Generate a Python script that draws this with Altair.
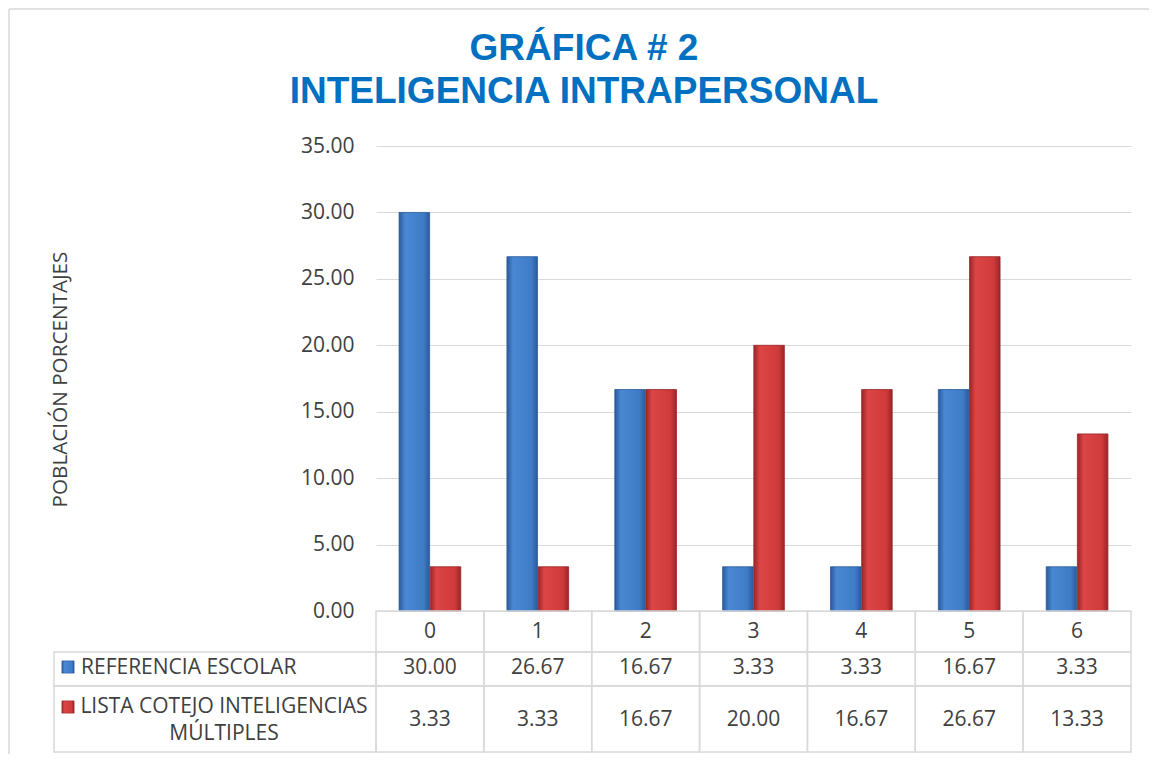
import altair as alt
import pandas as pd

categorias = ["0", "1", "2", "3", "4", "5", "6"]
referencia = [30.00, 26.67, 16.67, 3.33, 3.33, 16.67, 3.33]
lista = [3.33, 3.33, 16.67, 20.00, 16.67, 26.67, 13.33]
series = ["REFERENCIA ESCOLAR", "LISTA COTEJO INTELIGENCIAS MÚLTIPLES"]
titulo = ["GRÁFICA # 2", "INTELIGENCIA INTRAPERSONAL"]
eje_y = "POBLACIÓN PORCENTAJES"

FONT = "Open Sans"
GRAY = "#d9d9d9"
TXT = "#404040"
FS = 21

rows = []
for c, a, b in zip(categorias, referencia, lista):
    rows.append({"cat": c, "serie": series[0], "valor": a})
    rows.append({"cat": c, "serie": series[1], "valor": b})
df = pd.DataFrame(rows)
wide = pd.DataFrame({"cat": categorias, "ref": referencia, "lis": lista})
wide["ref_t"] = [f"{v:.2f}" for v in referencia]
wide["lis_t"] = [f"{v:.2f}" for v in lista]

xscale = alt.Scale(domain=categorias, paddingInner=0, paddingOuter=0)
xoff = alt.Scale(domain=series, paddingOuter=0.74, paddingInner=0.02)
yscale = alt.Scale(domain=[0, 35])

blue_grad = alt.Gradient(gradient="linear", x1=0, x2=1, y1=0, y2=0, stops=[
    alt.GradientStop(color="#2a5a9c", offset=0),
    alt.GradientStop(color="#4a88d4", offset=0.2),
    alt.GradientStop(color="#3f7cc6", offset=0.8),
    alt.GradientStop(color="#2a5a9c", offset=1)])
red_grad = alt.Gradient(gradient="linear", x1=0, x2=1, y1=0, y2=0, stops=[
    alt.GradientStop(color="#9a2627", offset=0),
    alt.GradientStop(color="#dc4546", offset=0.2),
    alt.GradientStop(color="#cf3a3b", offset=0.8),
    alt.GradientStop(color="#9a2627", offset=1)])

yaxis = alt.Axis(values=list(range(0, 40, 5)), format=".2f", labelFontSize=FS,
                 labelFont=FONT, labelColor=TXT, labelPadding=22, domain=False,
                 ticks=False, gridColor=GRAY, title=eje_y, titleFont=FONT,
                 titleFontSize=20.7, titleFontWeight="normal", titleColor=TXT,
                 titleX=-316, titleY=233, titleAlign="center", titleBaseline="middle",
                 titleAngle=270)

base = alt.Chart(df)
bars_ref = base.transform_filter(alt.datum.serie == series[0]).mark_bar(
    color=blue_grad, stroke="#2a5a9c", strokeWidth=0.8).encode(
    x=alt.X("cat:N", scale=xscale, axis=None),
    xOffset=alt.XOffset("serie:N", scale=xoff),
    y=alt.Y("valor:Q", scale=yscale, axis=yaxis))
bars_lis = base.transform_filter(alt.datum.serie == series[1]).mark_bar(
    color=red_grad, stroke="#9a2627", strokeWidth=0.8).encode(
    x=alt.X("cat:N", scale=xscale, axis=None),
    xOffset=alt.XOffset("serie:N", scale=xoff),
    y=alt.Y("valor:Q", scale=yscale))

tb = alt.Chart(wide)
def cells(y0, y1):
    return tb.mark_rect(fill="white", fillOpacity=0, stroke=GRAY, strokeWidth=1.5).encode(
        x=alt.X("cat:N", scale=xscale, axis=None), y=alt.value(y0), y2=alt.value(y1))

cell_cat = cells(465, 506)
cell_r1 = cells(506, 540)
cell_r2 = cells(540, 606)

one = alt.Chart(pd.DataFrame({"k": [0]}))
frame_left = one.mark_rule(color=GRAY, strokeWidth=1.5).encode(
    x=alt.value(-367), y=alt.value(-137), y2=alt.value(700))
frame_top = one.mark_rule(color=GRAY, strokeWidth=1.5).encode(
    x=alt.value(-367), x2=alt.value(800), y=alt.value(-137))
left_r1 = one.mark_rect(fill="white", fillOpacity=0, stroke=GRAY, strokeWidth=1.5).encode(
    x=alt.value(-322), x2=alt.value(0), y=alt.value(506), y2=alt.value(540))
left_r2 = one.mark_rect(fill="white", fillOpacity=0, stroke=GRAY, strokeWidth=1.5).encode(
    x=alt.value(-322), x2=alt.value(0), y=alt.value(540), y2=alt.value(606))

txt_kw = dict(font=FONT, fontSize=FS, color=TXT, baseline="middle", align="center")
t_cat = tb.mark_text(**txt_kw).encode(x=alt.X("cat:N", scale=xscale, axis=None),
                                      y=alt.value(486), text="cat:N")
t_r1 = tb.mark_text(**txt_kw).encode(x=alt.X("cat:N", scale=xscale, axis=None),
                                     y=alt.value(522), text="ref_t:N")
t_r2 = tb.mark_text(**txt_kw).encode(x=alt.X("cat:N", scale=xscale, axis=None),
                                     y=alt.value(574), text="lis_t:N")

key1 = one.mark_square(size=150, color=blue_grad, stroke="#2a5a9c", strokeWidth=0.6, opacity=1).encode(
    x=alt.value(-308), y=alt.value(521))
key2 = one.mark_square(size=150, color=red_grad, stroke="#9a2627", strokeWidth=0.6, opacity=1).encode(
    x=alt.value(-308), y=alt.value(561))
lab1 = one.mark_text(text=series[0], font=FONT, fontSize=FS, color=TXT,
                     align="left", baseline="middle").encode(x=alt.value(-295), y=alt.value(522))
lab2 = one.mark_text(text=["LISTA COTEJO INTELIGENCIAS", "MÚLTIPLES"], font=FONT,
                     fontSize=FS, color=TXT, align="center", baseline="middle",
                     lineHeight=27).encode(x=alt.value(-152), y=alt.value(561))

tit1 = one.mark_text(text=titulo[0], font="Liberation Sans", fontSize=37, fontWeight="bold",
                     color="#0070C0", align="center", baseline="middle").encode(
    x=alt.value(208), y=alt.value(-97))
tit2 = one.mark_text(text=titulo[1], font="Liberation Sans", fontSize=37, fontWeight="bold",
                     color="#0070C0", align="center", baseline="middle").encode(
    x=alt.value(208), y=alt.value(-54))

chart = alt.layer(frame_left, frame_top, bars_ref, bars_lis, cell_cat, cell_r1, cell_r2,
                  left_r1, left_r2, t_cat, t_r1, t_r2, key1, key2, lab1, lab2,
                  tit1, tit2).properties(
    width=755, height=465,
    autosize=alt.AutoSizeParams(type="none"),
    padding={"left": 368, "top": 138, "right": 18, "bottom": 143},
    background="white",
).configure_view(stroke=None)

chart.save("out.html", embed_options={"renderer": "svg", "actions": False})
